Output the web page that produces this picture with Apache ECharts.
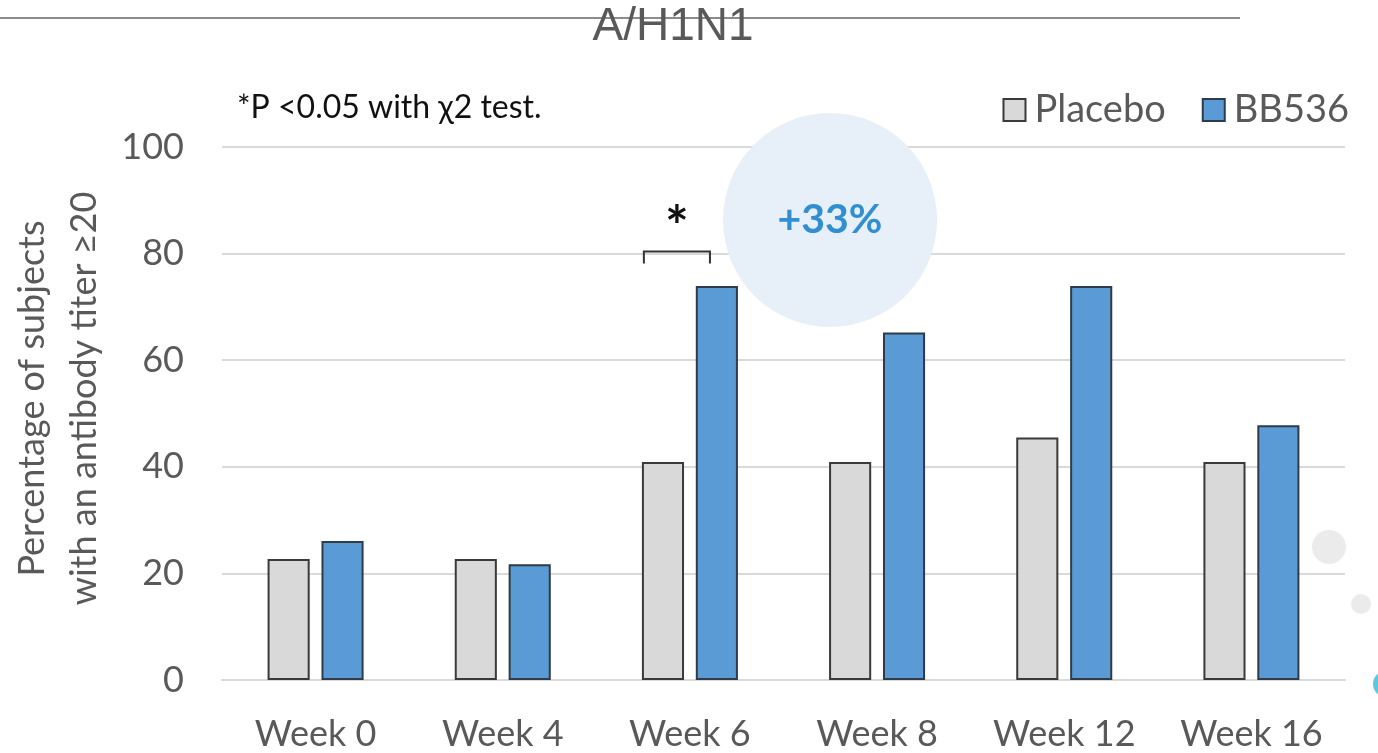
<!DOCTYPE html>
<html>
<head>
<meta charset="utf-8">
<script src="https://cdn.jsdelivr.net/npm/echarts@6/dist/echarts.min.js"></script>
<style>html,body{margin:0;padding:0;background:#fff}#c{width:1378px;height:753px}</style>
</head>
<body>
<div id="c"></div>
<script>
const categories = ['Week 0', 'Week 4', 'Week 6', 'Week 8', 'Week 12', 'Week 16'];
const placebo = [22.7, 22.7, 40.9, 40.9, 45.5, 40.9];
const bb536 = [26.1, 21.7, 73.9, 65.2, 73.9, 47.8];
const yTicks = [0, 20, 40, 60, 80, 100];
const FONT = 'Lato, "Open Sans", sans-serif';

const chart = echarts.init(document.getElementById('c'));
chart.setOption({
  animation: false,
  backgroundColor: '#fff',
  grid: { left: 222, right: 33, top: 147, bottom: 73, containLabel: false, outerBoundsMode: 'none' },
  legend: {
    right: 24, top: 86,
    itemWidth: 22, itemHeight: 22, itemGap: 36,
    icon: 'rect',
    textStyle: { fontSize: 38, color: '#595959', fontFamily: FONT, padding: [0, 0, 0, 4] },
    data: ['Placebo', 'BB536']
  },
  xAxis: {
    type: 'category', data: categories,
    axisLine: { lineStyle: { color: '#d9d9d9', width: 2 } },
    axisTick: { show: false },
    axisLabel: { fontSize: 36, color: '#595959', fontFamily: FONT, margin: 36, interval: 0, hideOverlap: false }
  },
  yAxis: {
    type: 'value', min: yTicks[0], max: yTicks[yTicks.length - 1], interval: 20,
    name: 'Percentage of subjects\nwith an antibody titer ≥20',
    nameLocation: 'middle', nameGap: 112,
    nameTextStyle: { fontSize: 36, color: '#595959', fontFamily: FONT, lineHeight: 52, padding: [0, 0, 0, 30] },
    axisLine: { show: false }, axisTick: { show: false },
    splitLine: { lineStyle: { color: '#d9d9d9', width: 2 } },
    axisLabel: { fontSize: 36, color: '#595959', fontFamily: FONT, margin: 38 }
  },
  series: [
    { name: 'Placebo', type: 'bar', data: placebo, barWidth: '22.5%', barGap: '28%',
      itemStyle: { color: '#d9d9d9', borderColor: '#3a3a3a', borderWidth: 2 } },
    { name: 'BB536', type: 'bar', data: bb536, barWidth: '22.5%', barGap: '28%',
      itemStyle: { color: '#5b9bd5', borderColor: '#2f3b48', borderWidth: 2 } }
  ]
});

// annotations
const c0 = chart.convertToPixel({ xAxisIndex: 0 }, categories[0]);
const c1 = chart.convertToPixel({ xAxisIndex: 0 }, categories[1]);
const bw = c1 - c0;
const c6 = chart.convertToPixel({ xAxisIndex: 0 }, categories[2]);
const yBr = chart.convertToPixel({ yAxisIndex: 0 }, 80);
const x1 = c6 - 0.246 * bw, x2 = c6 + 0.107 * bw;
chart.setOption({
  graphic: [
    { type: 'line', shape: { x1: 0, y1: 18, x2: 1240, y2: 18 }, style: { stroke: '#8c8c8c', lineWidth: 2 }, z: 1 },
    { type: 'text', x: 673, y: 27, z: 3,
      style: { text: 'A/H1N1', fontSize: 46, fontFamily: '"Liberation Sans", Arial, sans-serif', fill: '#595959', align: 'center', verticalAlign: 'middle' } },
    { type: 'text', x: 237, y: 108, style: { text: '*P <0.05 with χ2 test.', fontSize: 32, fontFamily: FONT, fill: '#111', verticalAlign: 'middle' } },
    { type: 'circle', shape: { cx: 830, cy: 220, r: 107 }, style: { fill: '#e7eff8' }, z: 5 },
    { type: 'text', x: 830, y: 220, z: 6, style: { text: '+33%', fontSize: 41, fontWeight: 'bold', fontFamily: FONT, fill: '#2f8fd0', align: 'center', verticalAlign: 'middle' } },
    { type: 'polyline', shape: { points: [[x1, yBr + 10], [x1, yBr - 2], [x2, yBr - 2], [x2, yBr + 10]] }, style: { stroke: '#333', lineWidth: 2, fill: null }, z: 6 },
    { type: 'text', x: (x1 + x2) / 2, y: yBr - 26, z: 6, style: { text: '*', fontSize: 56, fontWeight: 'bold', fontFamily: FONT, fill: '#111', align: 'center', verticalAlign: 'middle' } },
    { type: 'circle', shape: { cx: 1329, cy: 547, r: 17 }, style: { fill: '#ebebeb' }, z: 6 },
    { type: 'circle', shape: { cx: 1361, cy: 604, r: 10 }, style: { fill: '#ebebeb' }, z: 6 },
    { type: 'circle', shape: { cx: 1386, cy: 684, r: 13 }, style: { fill: '#5bc8e0' }, z: 6 }
  ]
});
</script>
</body>
</html>
